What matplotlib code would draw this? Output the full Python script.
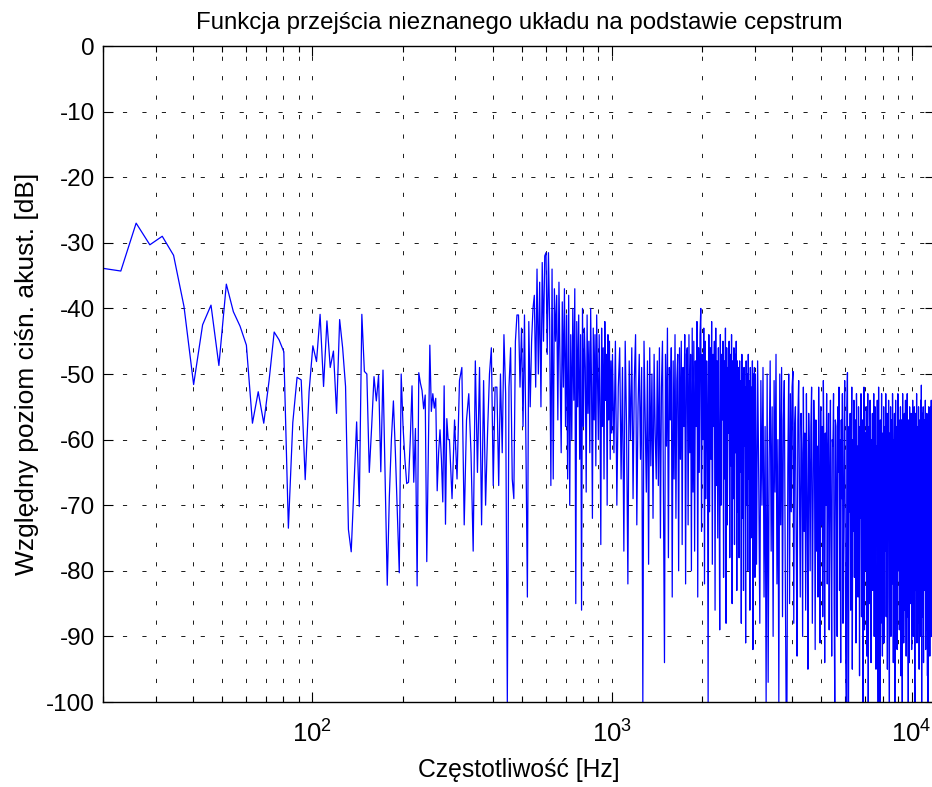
import numpy as np
import matplotlib.pyplot as plt
from matplotlib.ticker import LogLocator, NullFormatter

plt.rcParams['font.family'] = ['Liberation Sans', 'DejaVu Sans']
plt.rcParams['axes.unicode_minus'] = False
plt.rcParams['mathtext.fontset'] = 'custom'
plt.rcParams['mathtext.rm'] = 'Liberation Sans'
plt.rcParams['lines.scale_dashes'] = False

# FFT bin spacing [Hz]
bin_hz = 2.867

# bins 7..99, every bin
low_start, low_step = 7, 1
level_low = [
    -33.9, -34.3, -27.0, -30.3, -29.0, -31.9, -39.7, -51.6, -42.5, -39.5,
    -48.7, -36.3, -40.5, -42.7, -45.6, -57.5, -52.7, -57.5, -51.0, -43.6,
    -44.8, -46.6, -73.5, -57.4, -50.5, -50.9, -66.1, -52.7, -45.7, -48.1,
    -40.9, -51.9, -41.9, -49.0, -46.5, -56.0, -41.7, -46.0, -51.9, -73.7,
    -77.1, -67.0, -57.3, -70.2, -40.9, -49.6, -50.0, -65.0, -58.0, -50.4,
    -54.1, -50.2, -64.9, -49.4, -66.0, -82.2, -68.7, -60.0, -54.1, -62.0,
    -71.0, -80.3, -50.0, -58.0, -63.0, -66.7, -66.5, -60.0, -51.8, -66.5,
    -58.3, -82.3, -49.8, -51.4, -52.5, -55.3, -53.2, -78.6, -62.0, -45.6,
    -55.7, -53.0, -55.2, -53.7, -67.8, -62.0, -58.5, -63.0, -69.5, -51.8,
    -72.9, -56.8, -60.0,
]

# bins 100..348, every 2nd bin
mid_start, mid_step = 100, 2
level_mid = [
    -60, -69, -57, -66, -51, -49, -73, -57, -53, -62,
    -77, -48, -65, -49, -73, -51, -70, -59, -50, -46,
    -67, -52, -52, -67, -50, -62, -44, -53, -100, -52,
    -46, -66, -69, -45, -41, -41, -52, -43, -58, -41,
    -61, -84, -42, -55, -45, -40, -38, -52, -34, -50,
    -36, -55, -33, -45, -32, -31.5, -47, -31.5, -42, -67,
    -34, -66, -37, -45, -38, -57, -36, -49, -62, -39,
    -52, -37, -58, -41, -66, -38, -70, -44, -60, -40,
    -54, -37, -85, -42, -55, -41, -63, -44, -86, -40,
    -58, -43, -49, -68, -41, -56, -45, -62, -40, -52,
    -72, -43, -57, -44, -64, -41, -50, -60, -44, -55,
    -76, -43, -58, -46, -66, -42, -54, -47, -70, -44,
    -57, -45, -63, -48, -59,
]

# bins 350..1046, every 4th bin
upper_start, upper_step = 350, 4
level_upper = [
    -47, -62, -45, -70, -52, -46, -66, -49, -77, -45,
    -58, -82, -48, -60, -46, -69, -51, -44, -73, -55,
    -47, -63, -49, -100, -45, -57, -68, -48, -79, -46,
    -64, -50, -72, -47, -59, -66,
    -48, -67, -46, -75, -52, -45, -70, -94, -47, -61,
    -43, -78, -49, -57, -46, -84, -48, -66, -44, -72,
    -51, -47, -80, -46, -63, -45, -76, -49, -58, -44,
    -82, -47,
    -46, -73, -44, -62, -47, -80, -43, -68, -45, -77,
    -48, -58, -42, -84, -46, -65, -44, -40, -74, -47,
    -60, -43, -82, -45, -69, -48, -56, -100, -44, -71,
    -46, -63, -42, -79, -47, -58, -45, -86, -43, -67,
    -48, -75, -46, -61, -89, -44, -70, -47, -57, -45,
    -81, -48, -66, -43, -88, -46, -73, -49, -59, -45,
    -78, -47, -64, -44, -85, -48, -69, -46, -76, -47,
    -62, -45, -83, -48, -71,
    -49, -78, -48, -65, -51, -88, -47, -72, -50, -83,
    -49, -61, -52, -91, -48, -70, -50, -80, -47, -66,
    -51, -86, -49, -75, -52, -63, -48, -92, -50, -71,
    -49, -81,
]

# bins 1050..4182, every 9th bin
top_start, top_step = 1050, 9
level_top = [
    -50, -79, -48, -66, -88, -51, -70, -49, -84, -58,
    -100, -50, -97, -63, -48, -77, -55, -90, -51, -68,
    -47, -82, -60, -100, -50, -73, -49, -87, -57, -51,
    -78, -100, -100, -64, -50, -85,
    -53, -71, -52, -49.6, -88, -58, -55, -76, -93, -57,
    -51, -67, -84, -56, -62, -90, -52, -74, -59, -86,
    -53, -69, -95, -56, -63, -80, -58, -52, -88, -72,
    -54, -60, -92, -57, -77, -61, -84, -52, -66, -91,
    -55, -73, -58, -87, -51, -64, -94, -59, -70, -53,
    -82, -62, -56, -89, -67, -54, -76, -93, -60, -61,
    -53, -85, -100, -57, -58, -72, -90, -55, -65, -52,
    -83, -60, -94, -57, -69, -53, -88, -75, -59, -51,
    -79, -92, -100, -55, -49.8, -100, -100, -58, -71, -56,
    -86, -62, -52, -95, -60, -74, -54, -81, -66, -57,
    -91, -53, -68, -61, -84, -55, -63, -96, -58, -72,
    -53, -87, -62, -57, -100, -70, -52, -89, -65, -59,
    -80, -55, -93, -61, -53, -100, -74, -58, -85, -54,
    -67, -94, -60, -71, -56, -83, -63, -53, -90, -59,
    -55, -78, -95, -61, -66, -54, -86, -100, -52, -73,
    -60, -100, -57, -88, -64, -53, -81, -93, -59, -69,
    -55, -91, -62, -58, -77, -53, -87, -67, -56, -95,
    -61, -72, -54, -84, -100, -59, -65, -55, -90, -74,
    -57, -82, -53, -69, -94, -60, -63, -56, -100, -76,
    -54, -88, -61, -58, -92, -70, -53, -80, -66, -57,
    -89, -62, -73, -55, -96, -60, -57, -84, -100, -53,
    -68, -59, -91, -75, -56, -86, -62, -54, -79, -93,
    -58, -65, -53, -87, -71, -100, -57, -62, -94, -55,
    -77, -60, -85, -56, -69, -92, -59, -63, -54, -81,
    -90, -58, -72, -55, -97, -100, -61, -56, -83, -66,
    -53, -91, -74, -58, -62, -88, -55, -78, -95, -60,
    -57, -85, -64, -54, -90, -51.7, -100, -61, -56, -87,
    -70, -55, -94, -60, -76, -57, -83, -62, -54, -92,
    -67, -58, -89, -56, -73, -96, -59, -100, -63, -55,
    -86, -71, -57, -93, -61, -55, -81, -68, -54, -90,
    -59, -75, -56, -94, -62, -58, -87, -100, -66, -55,
    -83, -60, -91,
]

segments = [
    (low_start, low_step, level_low),
    (mid_start, mid_step, level_mid),
    (upper_start, upper_step, level_upper),
    (top_start, top_step, level_top),
]
freq = np.concatenate([(s + st * np.arange(len(v))) * bin_hz for s, st, v in segments])
level = np.concatenate([np.array(v, dtype=float) for s, st, v in segments])

fig = plt.figure(figsize=(9.32, 7.87), dpi=100)
ax = fig.add_axes([0.1105, 0.108, 0.8931, 0.8335])

ax.semilogx(freq, level, color='#0000ff', lw=0.9)

ax.set_xlim(20, 12000)
ax.set_ylim(-100, 0)
ax.set_yticks(np.arange(-100, 1, 10))
ax.set_xticks([100, 1000, 10000])
ax.set_xticklabels([r'$\mathregular{10^{2}}$', r'$\mathregular{10^{3}}$', r'$\mathregular{10^{4}}$'])
ax.xaxis.set_minor_locator(LogLocator(base=10, subs=np.arange(2, 10)))
ax.xaxis.set_minor_formatter(NullFormatter())

dots = (0, (3, 11))
ax.grid(which='major', color='0.1', linestyle=dots, lw=0.7)
ax.grid(which='minor', axis='x', color='0.1', linestyle=dots, lw=0.7)

ax.tick_params(which='both', direction='in', top=True, right=True)
ax.tick_params(axis='y', labelsize=17.5, pad=6)
ax.tick_params(axis='x', labelsize=18.5, pad=13)
ax.tick_params(which='major', length=7, width=0.8)
ax.tick_params(which='minor', length=4, width=0.8)
for sp in ax.spines.values():
    sp.set_linewidth(1.0)

ax.set_title('Funkcja przejścia nieznanego układu na podstawie cepstrum', fontsize=17.3, pad=12)
ax.set_xlabel('Częstotliwość [Hz]', fontsize=17.8, labelpad=8)
ax.set_ylabel('Względny poziom ciśn. akust. [dB]', fontsize=19, labelpad=5)

fig.savefig('out.png', dpi=100)
